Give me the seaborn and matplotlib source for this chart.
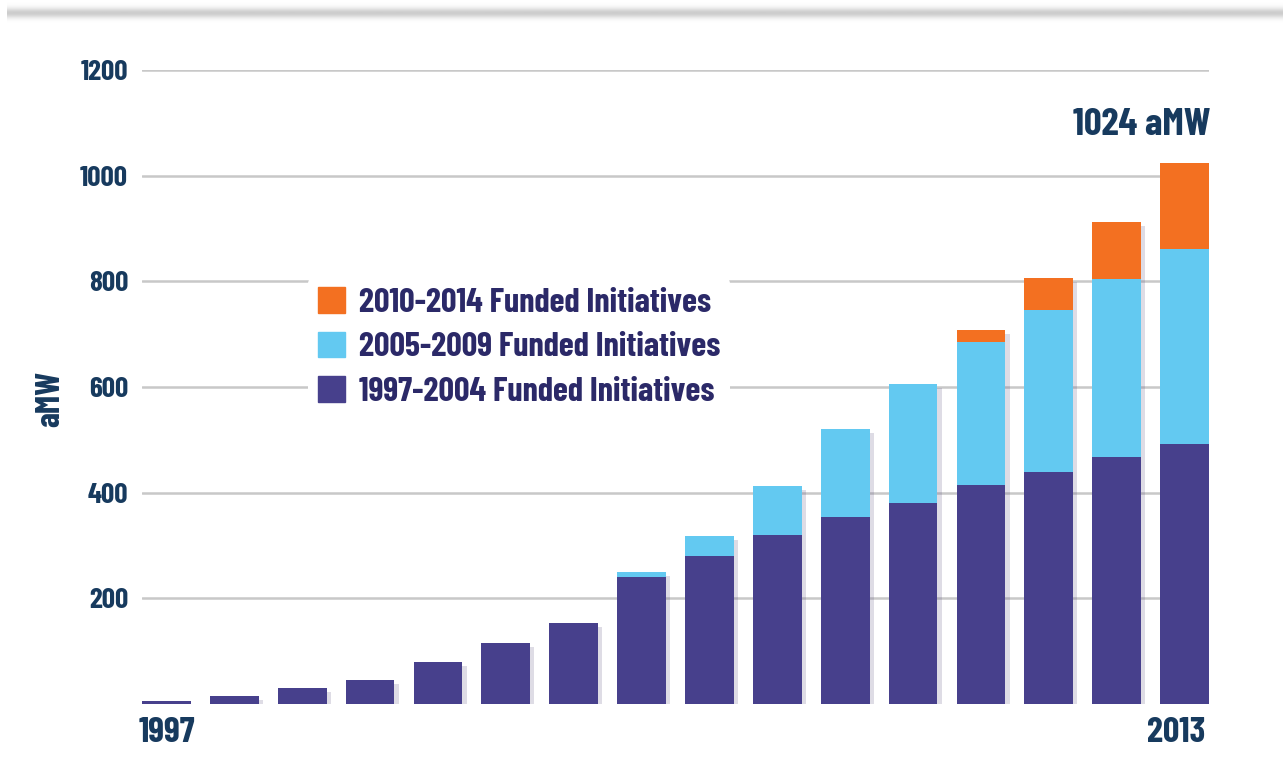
import matplotlib.pyplot as plt
import matplotlib.patheffects as pe
import matplotlib.transforms as mtransforms
from matplotlib import font_manager
from matplotlib.patches import Patch
import seaborn as sns
import numpy as np
import pandas as pd

# bars run 1997 .. 2013, only the end years are labelled
bar_labels = ["1997"] + [""] * 14 + ["2013"]
funded_1997_2004 = [5, 15, 30, 45, 80, 115, 153, 240, 280, 320, 354, 381, 415, 440, 468, 492]
funded_2005_2009 = [0, 0, 0, 0, 0, 0, 0, 10, 38, 93, 167, 225, 271, 305, 337, 370]
funded_2010_2014 = [0] * 12 + [22, 62, 108, 162]
series_names = ["2010-2014 Funded Initiatives", "2005-2009 Funded Initiatives",
                "1997-2004 Funded Initiatives"]
total_label = "1024 aMW"

PURPLE = "#47408c"
BLUE = "#63c9f1"
ORANGE = "#f37021"
NAVY = "#173a5e"
INDIGO = "#2b2968"

sns.set_style("white")

# condensed bold face, close to the original poster font
names = {f.name for f in font_manager.fontManager.ttflist}
if "Barlow Condensed" in names:
    FONT, S = "Barlow Condensed", 1.0
else:
    FONT, S = "DejaVu Sans", 0.7
plt.rcParams["font.family"] = [FONT, "DejaVu Sans"]
plt.rcParams["font.weight"] = "bold"
plt.rcParams["axes.labelweight"] = "bold"

df = pd.DataFrame({
    "bar": np.arange(len(bar_labels)),
    "early": funded_1997_2004,
    "mid": funded_2005_2009,
    "late": funded_2010_2014,
})
df["mid_top"] = df["early"] + df["mid"]
df["total"] = df["mid_top"] + df["late"]

W, H = 1283, 762
fig = plt.figure(figsize=(W / 100, H / 100), dpi=100)

# grey shadow strip across the top of the page
band = fig.add_axes([7 / W, 1 - 24 / H, 1 - 7 / W, 24 / H])
prof = np.exp(-((np.arange(24) - 12.5) / 5.0) ** 2)
band.imshow(1 - 0.2 * prof[:, None] * np.ones((1, 10)), cmap="gray", vmin=0, vmax=1,
            aspect="auto", interpolation="bilinear")
band.axis("off")

ax = fig.add_axes([142 / W, 1 - 704 / H, (1209 - 142) / W, (704 - 70) / H])

# stacked bars drawn tallest first
shadow = [pe.SimplePatchShadow(offset=(3, -3), shadow_rgbFace="#5a5080", alpha=0.2), pe.Normal()]
sns.barplot(data=df, x="bar", y="total", color=ORANGE, saturation=1, width=0.72, ax=ax,
            linewidth=0, path_effects=shadow)
sns.barplot(data=df, x="bar", y="mid_top", color=BLUE, saturation=1, width=0.72, ax=ax,
            linewidth=0)
sns.barplot(data=df, x="bar", y="early", color=PURPLE, saturation=1, width=0.72, ax=ax,
            linewidth=0)

ax.set_xlim(-0.36, 15.36)
ax.set_ylim(0, 1200)
ax.set_yticks([200, 400, 600, 800, 1000, 1200])
ax.yaxis.grid(True, color="#c8c8c8", linewidth=1.8)
ax.set_axisbelow(True)
sns.despine(ax=ax, left=True, bottom=True)
ax.tick_params(length=0)
ax.tick_params(axis="y", labelsize=21 * S, labelcolor=NAVY, pad=10)
ax.set_xticks([0, 15])
ax.set_xticklabels([bar_labels[0], bar_labels[-1]], fontsize=26 * S, color=NAVY)
ax.tick_params(axis="x", pad=9)
# the end label sits a little left of the last bar
last = ax.get_xticklabels()[-1]
last.set_transform(last.get_transform() + mtransforms.ScaledTranslation(-8 / 100, 0, fig.dpi_scale_trans))
ax.set_xlabel("")
ax.set_ylabel("aMW", fontsize=24 * S, color=NAVY)
ax.yaxis.set_label_coords(-0.072, 0.481)

ax.text(14.37, df["total"].iloc[-1] + 71, total_label, ha="center", va="center",
        fontsize=28 * S, color=NAVY, fontweight="bold")

handles = [Patch(color=ORANGE), Patch(color=BLUE), Patch(color=PURPLE)]
leg = ax.legend(handles, series_names, loc="upper left", bbox_to_anchor=(291 / W, 1 - 260 / H),
                bbox_transform=fig.transFigure, frameon=True, facecolor="white",
                edgecolor="none", framealpha=1, fontsize=24.6 * S, handlelength=0.78,
                handleheight=0.78, handletextpad=0.4, labelspacing=0.4, borderpad=0.3)
for t in leg.get_texts():
    t.set_color(INDIGO)

fig.savefig("out.png", dpi=100, facecolor="white")
